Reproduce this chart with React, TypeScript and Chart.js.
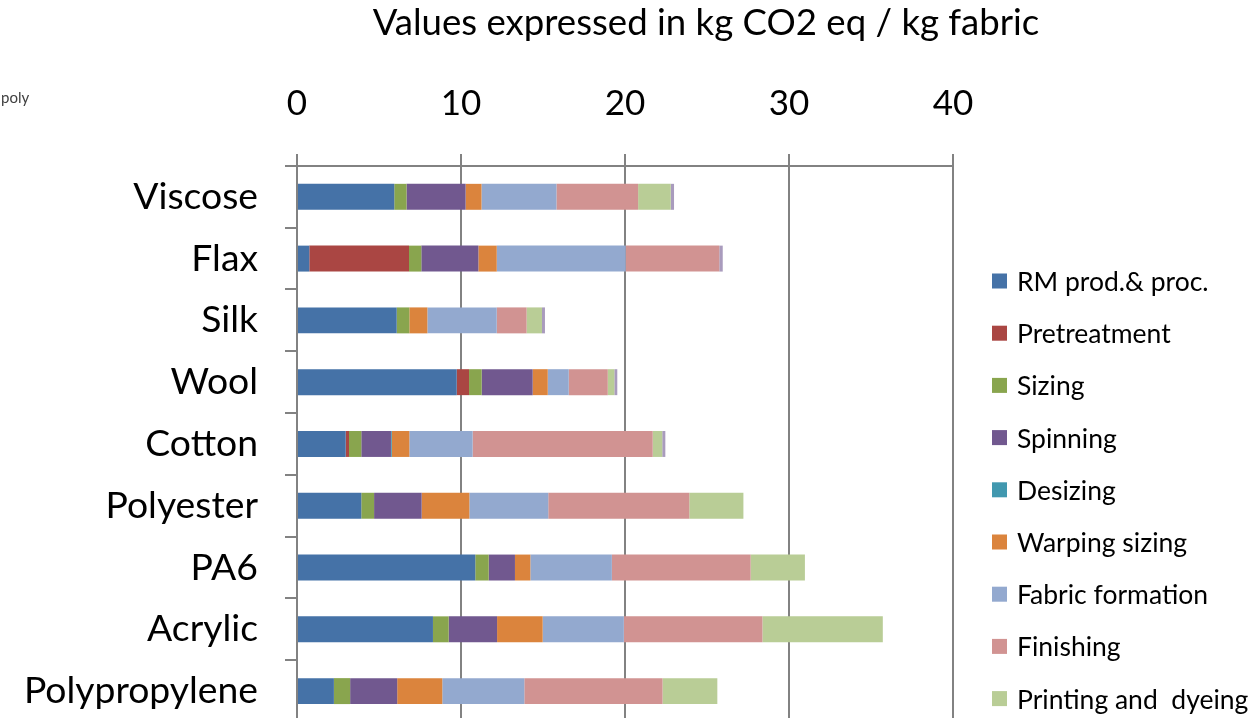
import React, { useEffect, useRef } from "react";
import { Chart, registerables } from "chart.js";

Chart.register(...registerables);

const categories = ["Viscose", "Flax", "Silk", "Wool", "Cotton", "Polyester", "PA6", "Acrylic", "Polypropylene"];
const xTicks = [0, 10, 20, 30, 40];

const rmProd = [5.93, 0.75, 6.08, 9.74, 2.97, 3.92, 10.87, 8.29, 2.25];
const pretreatment = [0, 6.08, 0, 0.75, 0.2, 0, 0, 0, 0];
const sizing = [0.75, 0.75, 0.77, 0.77, 0.75, 0.78, 0.82, 0.96, 0.99];
const spinning = [3.6, 3.48, 0, 3.11, 1.81, 2.9, 1.6, 2.95, 2.87];
const desizing = [0, 0, 0, 0, 0.05, 0, 0, 0, 0];
const warpingSizing = [0.97, 1.12, 1.1, 0.92, 1.07, 2.91, 0.94, 2.78, 2.75];
const fabricFormation = [4.57, 7.86, 4.23, 1.28, 3.86, 4.81, 4.97, 4.95, 5.0];
const finishing = [4.98, 5.71, 1.82, 2.38, 10.98, 8.6, 8.46, 8.45, 8.43];
const printingDyeing = [1.99, 0, 0.94, 0.4, 0.58, 3.3, 3.31, 7.34, 3.34];
const otherStage = [0.2, 0.21, 0.18, 0.18, 0.19, 0, 0, 0, 0];

const seriesLabels = [
  "RM prod.& proc.",
  "Pretreatment",
  "Sizing",
  "Spinning",
  "Desizing",
  "Warping sizing",
  "Fabric formation",
  "Finishing",
  "Printing and  dyeing",
  "Other",
];
const seriesColors = [
  "#4572A7",
  "#AA4643",
  "#89A54E",
  "#71588F",
  "#4198AF",
  "#DB843D",
  "#93A9CF",
  "#D19392",
  "#B9CD96",
  "#A99BBD",
];
const seriesValues = [
  rmProd,
  pretreatment,
  sizing,
  spinning,
  desizing,
  warpingSizing,
  fabricFormation,
  finishing,
  printingDyeing,
  otherStage,
];

const FONT = "Lato";
const GRID = "#828282";

const legendPlugin = {
  id: "sideLegend",
  afterDraw(chart: any) {
    const ctx = chart.ctx;
    ctx.save();
    chart.data.datasets.forEach((ds: any, i: number) => {
      const cy = 281 + i * 52.2;
      ctx.fillStyle = ds.backgroundColor;
      ctx.fillRect(992, cy - 7.5, 15, 15);
      ctx.fillStyle = "#000";
      ctx.font = `26.5px ${FONT}`;
      ctx.textBaseline = "alphabetic";
      ctx.textAlign = "left";
      ctx.fillText(ds.label, 1017, cy + 10);
    });
    ctx.fillStyle = "#404040";
    ctx.font = `15px ${FONT}`;
    ctx.fillText("poly", 1, 103);
    ctx.restore();
  },
};

export default function App() {
  const ref = useRef<HTMLCanvasElement | null>(null);

  useEffect(() => {
    if (!ref.current) return;
    const chart = new Chart(ref.current, {
      type: "bar",
      data: {
        labels: categories,
        datasets: seriesValues.map((vals, i) => ({
          label: seriesLabels[i],
          data: vals,
          backgroundColor: seriesColors[i],
          borderWidth: 0,
          barPercentage: 0.42,
          categoryPercentage: 1,
        })),
      },
      options: {
        indexAxis: "y",
        responsive: false,
        animation: false,
        layout: { padding: { left: 0, right: -154, top: 0, bottom: 0 } },
        plugins: {
          legend: { display: false },
          tooltip: { enabled: false },
          title: {
            display: true,
            text: "Values expressed in kg CO2 eq / kg fabric",
            color: "#000",
            font: { family: FONT, size: 36.6, weight: "normal" },
            padding: { top: 1, bottom: 0 },
          },
        },
        scales: {
          x: {
            type: "linear",
            position: "top",
            stacked: true,
            min: 0,
            max: 40,
            afterBuildTicks: (s: any) => {
              s.ticks = xTicks.map((v) => ({ value: v }));
            },
            afterFit: (s: any) => {
              s.height = 166 - 45;
            },
            ticks: {
              color: "#000",
              font: { family: FONT, size: 35 },
              padding: 29,
            },
            grid: {
              color: GRID,
              lineWidth: 2,
              tickLength: 12,
              drawTicks: true,
            },
            border: { display: true, color: GRID, width: 2 },
          },
          y: {
            type: "category",
            position: "left",
            stacked: true,
            afterFit: (s: any) => {
              s.width = 297;
              s.paddingTop = 0;
              s.paddingBottom = 0;
            },
            ticks: {
              color: "#000",
              font: { family: FONT, size: 37.3 },
              padding: 27,
            },
            grid: {
              drawOnChartArea: false,
              drawTicks: true,
              tickLength: 12,
              offset: true,
              color: GRID,
              lineWidth: 2,
            },
            border: { display: true, color: GRID, width: 2 },
          },
          yRight: {
            type: "linear",
            position: "right",
            display: true,
            ticks: { display: false },
            grid: { display: false },
            border: { display: false },
            afterFit: (s: any) => {
              s.width = 1412 - 953;
              s.paddingTop = 0;
              s.paddingBottom = 0;
            },
          },
        },
      } as any,
      plugins: [legendPlugin],
    });
    return () => chart.destroy();
  }, []);

  return (
    <div
      style={{
        position: "fixed",
        left: 0,
        top: 0,
        width: 1258,
        height: 718,
        overflow: "hidden",
        background: "#fff",
      }}
    >
      <canvas ref={ref} width={1258} height={722} style={{ display: "block" }} />
    </div>
  );
}
